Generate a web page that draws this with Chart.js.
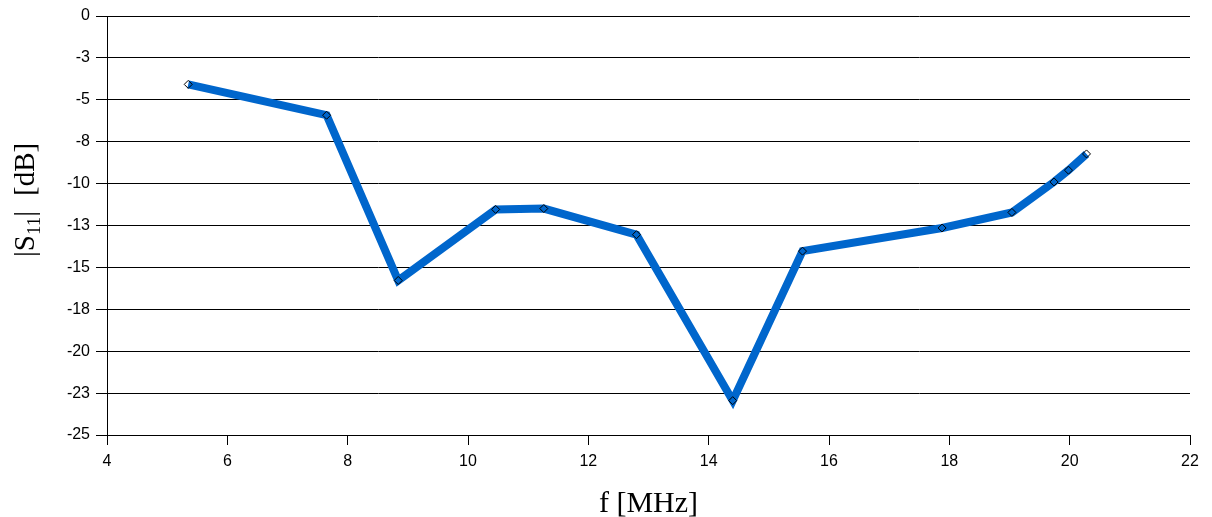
<!DOCTYPE html>
<html>
<head>
<meta charset="utf-8">
<script src="https://cdn.jsdelivr.net/npm/chart.js@4/dist/chart.umd.min.js"></script>
<style>
  html, body { margin: 0; padding: 0; background: #fff; }
  #wrap { width: 1212px; height: 517px; }
</style>
</head>
<body>
<div id="wrap"><canvas id="s11Chart" width="1212" height="517"></canvas></div>
<script>
const freqMHz = [5.35, 7.65, 8.84, 10.46, 11.26, 12.80, 14.40, 15.56, 17.88, 19.04, 19.74, 19.98, 20.28]
const s11dB = [-4.08, -5.92, -15.78, -11.54, -11.49, -13.05, -22.95, -14.03, -12.65, -11.72, -9.90, -9.20, -8.23]

// axis ranges
const xRange = [4, 22, 2]
const yRange = [-25, 0, 2.5]

// y axis title drawn by hand so the "11" can be a subscript
const yTitlePlugin = {
  id: "yTitle",
  afterDraw(chart) {
    const ctx = chart.ctx
    ctx.save()
    ctx.translate(34, 257)
    ctx.rotate(-Math.PI / 2)
    ctx.fillStyle = "#000"
    ctx.textBaseline = "alphabetic"
    let x = 0
    const big = "29px 'Liberation Serif', 'Times New Roman', serif"
    const small = "19px 'Liberation Serif', 'Times New Roman', serif"
    const parts = [
      { t: "|S", f: big, dy: 0, gap: 0 },
      { t: "11", f: small, dy: 6, gap: 0 },
      { t: "|", f: big, dy: 0, gap: 15 },
      { t: "[dB]", f: big, dy: 0, gap: 0 },
    ]
    parts.forEach((p) => {
      ctx.font = p.f
      ctx.fillText(p.t, x, p.dy)
      x += ctx.measureText(p.t).width + p.gap
    })
    ctx.restore()
  },
}

function excelRound(v) {
  const r = Math.round(Math.abs(v))
  return v < 0 ? "-" + r : String(r)
}

function createChart() {
  const ctx = document.getElementById("s11Chart").getContext("2d")
  new Chart(ctx, {
    type: "scatter",
    data: {
      datasets: [
        {
          label: "|S11|",
          data: freqMHz.map((f, i) => ({ x: f, y: s11dB[i] })),
          showLine: true,
          borderColor: "#0066CC",
          borderWidth: 8,
          tension: 0,
          pointStyle: "rectRot",
          pointRadius: 4,
          pointBackgroundColor: "rgba(255,255,255,0)",
          pointBorderColor: "#000",
          pointBorderWidth: 1,
        },
      ],
    },
    options: {
      responsive: false,
      animation: false,
      layout: { padding: { left: 0, right: 22, top: 16, bottom: 0 } },
      plugins: {
        legend: { display: false },
        tooltip: { enabled: false },
      },
      scales: {
        x: {
          type: "linear",
          min: xRange[0],
          max: xRange[1],
          afterFit: (s) => { s.height = 82 },
          ticks: {
            stepSize: xRange[2],
            color: "#000",
            padding: 7,
            font: { family: "'Liberation Sans', Arial, sans-serif", size: 16 },
          },
          grid: {
            drawOnChartArea: false,
            drawTicks: true,
            tickLength: 10,
            color: "#000",
          },
          border: { display: true, color: "#000", width: 1 },
          title: {
            display: true,
            text: "f [MHz]",
            color: "#000",
            padding: { top: 0, bottom: -2 },
            font: { family: "'Liberation Serif', 'Times New Roman', serif", size: 30, lineHeight: 1 },
          },
        },
        y: {
          type: "linear",
          min: yRange[0],
          max: yRange[1],
          afterFit: (s) => { s.width = 107 },
          ticks: {
            stepSize: yRange[2],
            color: "#000",
            padding: 6,
            font: { family: "'Liberation Sans', Arial, sans-serif", size: 16 },
            callback: (v) => excelRound(v),
          },
          grid: {
            color: "#000",
            lineWidth: 1,
            tickLength: 11,
          },
          border: { display: true, color: "#000", width: 1 },
        },
      },
    },
    plugins: [yTitlePlugin],
  })
}

window.addEventListener("load", createChart)
</script>
</body>
</html>
